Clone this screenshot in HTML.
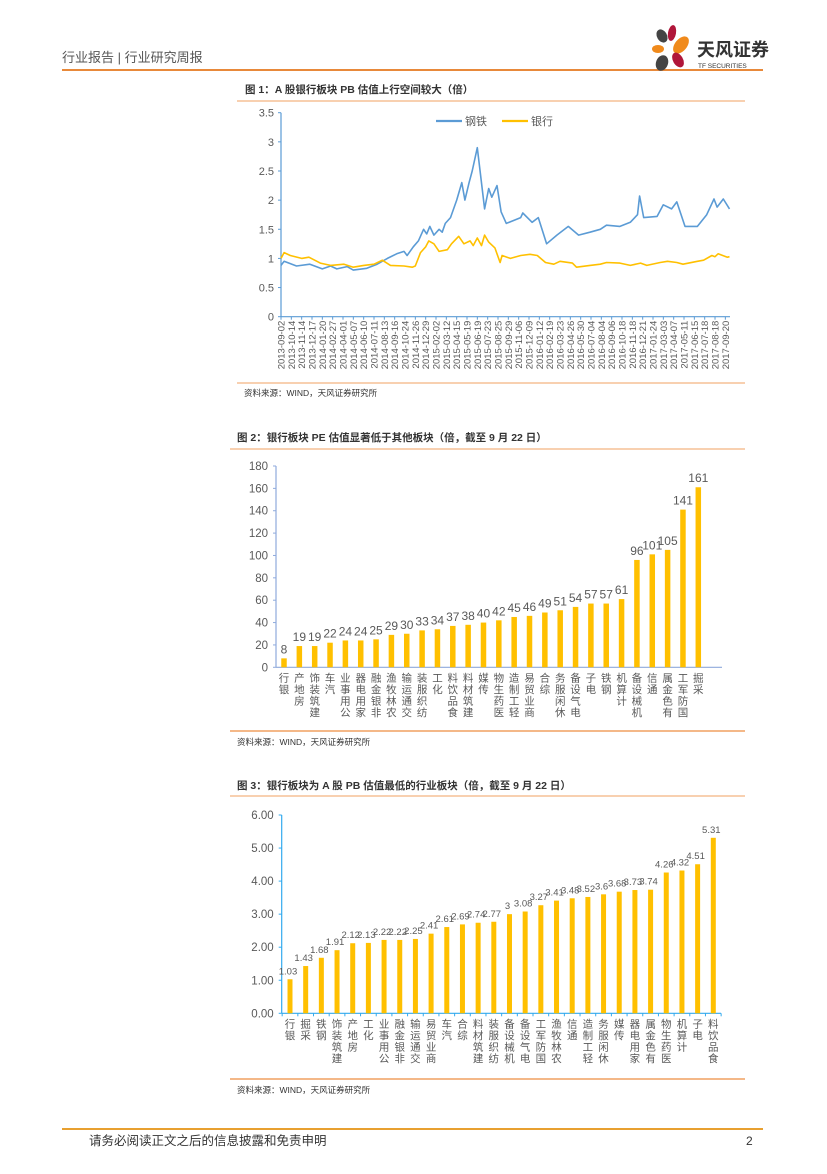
<!DOCTYPE html>
<html><head><meta charset="utf-8">
<style>
html,body{margin:0;padding:0;background:#fff;}
body{width:827px;height:1169px;position:relative;overflow:hidden;font-family:"Liberation Sans","Noto Sans CJK SC",sans-serif;}
svg text{font-family:"Liberation Sans","Noto Sans CJK SC",sans-serif;}
</style></head>
<body>
<svg id="page" width="827" height="1169" viewBox="0 0 827 1169" xmlns="http://www.w3.org/2000/svg">
  <g>
    <text x="62" y="62" font-size="13" fill="#555">行业报告 | 行业研究周报</text>
    <line x1="62" y1="70" x2="763" y2="70" stroke="#e8893a" stroke-width="2"/>
    <g>
      <ellipse cx="662" cy="36" rx="5" ry="7" fill="#444" transform="rotate(-30 662 36)"/>
      <ellipse cx="672" cy="33" rx="4" ry="8" fill="#b0163a" transform="rotate(10 672 33)"/>
      <ellipse cx="681" cy="45" rx="6" ry="10" fill="#f08a1c" transform="rotate(40 681 45)"/>
      <ellipse cx="658" cy="49" rx="6" ry="4" fill="#f08a1c"/>
      <ellipse cx="678" cy="60" rx="5" ry="8" fill="#b0163a" transform="rotate(-30 678 60)"/>
      <ellipse cx="662" cy="63" rx="6" ry="8" fill="#444" transform="rotate(20 662 63)"/>
      <text x="697" y="56" font-size="18" font-weight="bold" fill="#333">天风证券</text>
      <text x="698" y="68" font-size="6.5" fill="#333">TF SECURITIES</text>
    </g>
  </g>

  <text x="245" y="93" font-size="10.5" font-weight="bold" fill="#333">图 1：A 股银行板块 PB 估值上行空间较大（倍）</text>
  <line x1="237" y1="101" x2="745" y2="101" stroke="#f0a060" stroke-width="1"/>
  <g id="chart1"></g>
  <line x1="237" y1="383" x2="745" y2="383" stroke="#f0a060" stroke-width="1"/>
  <text x="244" y="396" font-size="8.5" fill="#333">资料来源：WIND，天风证券研究所</text>

  <text x="237" y="441" font-size="10.5" font-weight="bold" fill="#333">图 2：银行板块 PE 估值显著低于其他板块（倍，截至 9 月 22 日）</text>
  <line x1="230" y1="449" x2="745" y2="449" stroke="#f0a060" stroke-width="1"/>
  <g id="chart2"></g>
  <line x1="230" y1="731" x2="745" y2="731" stroke="#f0a060" stroke-width="1.5"/>
  <text x="237" y="745" font-size="8.5" fill="#333">资料来源：WIND，天风证券研究所</text>

  <text x="237" y="789" font-size="10.5" font-weight="bold" fill="#333">图 3：银行板块为 A 股 PB 估值最低的行业板块（倍，截至 9 月 22 日）</text>
  <line x1="230" y1="796" x2="745" y2="796" stroke="#f0a060" stroke-width="1"/>
  <g id="chart3"></g>
  <line x1="230" y1="1079" x2="745" y2="1079" stroke="#f0a060" stroke-width="1.5"/>
  <text x="237" y="1093" font-size="8.5" fill="#333">资料来源：WIND，天风证券研究所</text>

  <g>
    <line x1="62" y1="1129" x2="763" y2="1129" stroke="#e8a030" stroke-width="2"/>
    <text x="89" y="1145" font-size="12.5" fill="#333">请务必阅读正文之后的信息披露和免责申明</text>
    <text x="746" y="1145" font-size="12" fill="#333">2</text>
  </g>
</svg>
<script>
const NS='http://www.w3.org/2000/svg';
const dateLabels=['2013-09-02','2013-10-14','2013-11-14','2013-12-17','2014-01-20','2014-02-27','2014-04-01','2014-05-07','2014-06-10','2014-07-11','2014-08-13','2014-09-16','2014-10-24','2014-11-26','2014-12-29','2015-02-02','2015-03-12','2015-04-15','2015-05-19','2015-06-19','2015-07-23','2015-08-25','2015-09-29','2015-11-06','2015-12-09','2016-01-12','2016-02-19','2016-03-23','2016-04-26','2016-05-30','2016-07-04','2016-08-04','2016-09-06','2016-10-18','2016-11-18','2016-12-21','2017-01-24','2017-03-03','2017-04-07','2017-05-11','2017-06-15','2017-07-18','2017-08-18','2017-09-20'];
const yTicks1=[0,0.5,1,1.5,2,2.5,3,3.5];
const yTickLabels1=['0','0.5','1','1.5','2','2.5','3','3.5'];
const steelPos=[0,0.3,1.5,2.8,4,4.8,5.4,6.4,7,8.3,9.3,10.3,11.2,11.9,12.2,12.8,13.3,13.8,14.1,14.4,14.8,15.3,15.6,15.9,16.4,17,17.5,17.8,18.2,18.5,19,19.7,20.1,20.4,20.9,21.3,21.8,23.2,23.4,24.3,24.9,25.7,26.7,27.8,28.8,29.9,30.9,31.5,32.8,33.8,34.5,34.7,35.1,36.4,37,37.8,38.3,39.1,40.3,41.2,41.9,42.2,42.8,43.4];
const steelVal=[0.88,0.95,0.87,0.9,0.82,0.87,0.82,0.86,0.8,0.83,0.9,1.0,1.08,1.12,1.05,1.2,1.3,1.5,1.42,1.55,1.4,1.5,1.45,1.6,1.7,2.0,2.3,2.0,2.3,2.5,2.9,1.85,2.2,2.05,2.25,1.8,1.6,1.7,1.78,1.62,1.7,1.25,1.4,1.55,1.4,1.45,1.5,1.57,1.55,1.62,1.75,2.07,1.7,1.72,1.92,1.85,1.97,1.55,1.55,1.75,2.02,1.88,2.02,1.85];
const bankPos=[0,0.3,0.9,2.0,2.7,3.8,4.8,6.1,7,8,9,9.8,10.6,11.9,12.7,13,13.5,14,14.3,14.8,15.3,16.1,16.5,17.2,17.7,18.3,18.6,19,19.4,19.7,20.1,20.7,21.2,21.4,22.2,23.2,24.1,24.8,25.6,26.4,27,28.2,28.6,29.9,30.9,31.5,32.8,33.8,34.8,35.4,36.7,37.4,38.3,38.9,40.3,40.9,41.7,42,42.3,43.2,43.4];
const bankVal=[1.0,1.1,1.05,1.0,1.02,0.92,0.88,0.9,0.85,0.88,0.9,0.97,0.88,0.87,0.85,0.87,1.1,1.2,1.3,1.25,1.12,1.15,1.25,1.38,1.25,1.3,1.22,1.35,1.22,1.4,1.28,1.18,0.93,1.05,1.0,1.05,1.07,1.05,0.93,0.9,0.95,0.92,0.85,0.88,0.9,0.93,0.92,0.88,0.92,0.88,0.93,0.95,0.93,0.9,0.95,0.97,1.05,1.03,1.08,1.02,1.03];
const peCats=['银行','房地产','建筑装饰','汽车','公用事业','家用电器','非银金融','农林牧渔','交通运输','纺织服装','化工','食品饮料','建筑材料','传媒','医药生物','轻工制造','商业贸易','综合','休闲服务','电气设备','电子','钢铁','计算机','机械设备','通信','有色金属','国防军工','采掘'];
const peVals=[8,19,19,22,24,24,25,29,30,33,34,37,38,40,42,45,46,49,51,54,57,57,61,96,101,105,141,161];
const yTicks2=[0,20,40,60,80,100,120,140,160,180];
const pbCats=['银行','采掘','钢铁','建筑装饰','房地产','化工','公用事业','非银金融','交通运输','商业贸易','汽车','综合','建筑材料','纺织服装','机械设备','电气设备','国防军工','农林牧渔','通信','轻工制造','休闲服务','传媒','家用电器','有色金属','医药生物','计算机','电子','食品饮料'];
const pbVals=[1.03,1.43,1.68,1.91,2.12,2.13,2.22,2.22,2.25,2.41,2.61,2.69,2.74,2.77,3,3.08,3.27,3.41,3.48,3.52,3.6,3.68,3.73,3.74,4.26,4.32,4.51,5.31];
const pbLabels=['1.03','1.43','1.68','1.91','2.12','2.13','2.22','2.22','2.25','2.41','2.61','2.69','2.74','2.77','3','3.08','3.27','3.41','3.48','3.52','3.6','3.68','3.73','3.74','4.26','4.32','4.51','5.31'];
const yTicks3=[0,1,2,3,4,5,6];

function mk(tag,attrs,parent){const e=document.createElementNS(NS,tag);for(const k in attrs)e.setAttribute(k,attrs[k]);parent.appendChild(e);return e;}

(function(){
  const g=document.getElementById('chart1');
  const x0=281,x1=730,yb=316.7,yt=112.7,n=dateLabels.length;
  const xs=i=>x0+i*(x1-x0)/(n-1+0.45);
  const ys=v=>yb-(v/3.5)*(yb-yt);
  const ax=mk('line',{x1:x0,y1:yt,x2:x0,y2:yb,stroke:'#5b9bd5','stroke-width':1.2},g);
  
  
  const bx=mk('line',{x1:x0,y1:yb,x2:x1,y2:yb,stroke:'#5b9bd5','stroke-width':1.2},g);
  
  
  yTicks1.forEach((v,i)=>{
    const t=mk('text',{x:x0-7,y:ys(v)+4,'font-size':11,fill:'#595959','text-anchor':'end'},g);t.textContent=yTickLabels1[i];
    
    
    mk('line',{x1:x0-3,y1:ys(v),x2:x0,y2:ys(v),stroke:'#5b9bd5'},g);
  });
  dateLabels.forEach((d,i)=>{
    const x=xs(i);
    mk('line',{x1:x,y1:yb,x2:x,y2:yb+3,stroke:'#5b9bd5'},g);
    const t=mk('text',{x:0,y:0,'font-size':9.5,fill:'#595959','text-anchor':'end',transform:`translate(${x+3.5},${yb+4}) rotate(-90)`},g);
    t.textContent=d;
    
    
  });
  const path=(pos,vals)=>pos.map((p,i)=>(i?'L':'M')+xs(p).toFixed(1)+','+ys(vals[i]).toFixed(1)).join('');
  const s=mk('path',{d:path(steelPos,steelVal),fill:'none',stroke:'#5b9bd5','stroke-width':1.6,'stroke-linejoin':'round'},g);
  
  
  const b=mk('path',{d:path(bankPos,bankVal),fill:'none',stroke:'#ffc000','stroke-width':1.6,'stroke-linejoin':'round'},g);
  
  
  const lg=mk('g',{},g);
  
  
  mk('line',{x1:436,y1:121,x2:462,y2:121,stroke:'#5b9bd5','stroke-width':2.2},lg);
  const l1=mk('text',{x:465,y:125,'font-size':11,fill:'#595959'},lg);l1.textContent='钢铁';
  
  
  mk('line',{x1:502,y1:121,x2:528,y2:121,stroke:'#ffc000','stroke-width':2.2},lg);
  const l2=mk('text',{x:531,y:125,'font-size':11,fill:'#595959'},lg);l2.textContent='银行';
  
  
})();

function barChart(id,cats,vals,labels,ticks,cfg){
  const g=document.getElementById(id);
  const {x0,xr,yb,yt,xf,xl,bw,max,axisColor,tickFmt,valFont,valDx,catFont,catStep}=cfg;
  const n=cats.length;
  const xs=i=>xf+i*(xl-xf)/(n-1);
  const ys=v=>yb-(v/max)*(yb-yt);
  const ax=mk('line',{x1:x0,y1:yt,x2:x0,y2:yb,stroke:axisColor,'stroke-width':1.2},g);
  
  
  const bx=mk('line',{x1:x0,y1:yb,x2:xr,y2:yb,stroke:axisColor,'stroke-width':1.2},g);
  
  
  ticks.forEach(v=>{
    mk('line',{x1:x0-3,y1:ys(v),x2:x0,y2:ys(v),stroke:axisColor},g);
    const t=mk('text',{x:x0-8,y:ys(v)+4,'font-size':11.5,fill:'#595959','text-anchor':'end'},g);
    t.textContent=tickFmt(v);
    
    
  });
  const step=(xl-xf)/(n-1);
  cats.forEach((c,i)=>{
    const x=xs(i);
    if(cfg.xticks){mk('line',{x1:x-step/2,y1:yb,x2:x-step/2,y2:yb+3,stroke:axisColor},g);}
    const r=mk('rect',{x:x-bw/2,y:ys(vals[i]),width:bw,height:yb-ys(vals[i]),fill:'#ffc000'},g);
    
    
    const vt=mk('text',{x:x+valDx,y:ys(vals[i])-5,'font-size':valFont,fill:'#595959','text-anchor':'middle'},g);
    vt.textContent=labels[i];
    
    
    const ct=mk('text',{'font-size':catFont,fill:'#595959','text-anchor':'middle'},g);
    
    
    const chars=[...c];
    chars.forEach((ch,k)=>{
      const ts=mk('tspan',{x:x,y:yb+14+(chars.length-1-k)*catStep},ct);
      ts.textContent=ch;
    });
  });
  if(cfg.xticks){mk('line',{x1:xl+step/2,y1:yb,x2:xl+step/2,y2:yb+3,stroke:axisColor},g);}
}
barChart('chart2',peCats,peVals,peVals.map(String),yTicks2,{x0:276,xr:722,yb:667.3,yt:466,xf:284,xl:698.3,bw:5.5,max:180,axisColor:'#8faadc',tickFmt:v=>String(v),valFont:12,valDx:0,catFont:10.5,catStep:11.5,xticks:false});
barChart('chart3',pbCats,pbVals,pbLabels,yTicks3,{x0:281.7,xr:721,yb:1013.3,yt:815,xf:290,xl:713.3,bw:5,max:6,axisColor:'#33aaee',tickFmt:v=>v.toFixed(2),valFont:9.5,valDx:-2,catFont:10.5,catStep:11.5,xticks:true});
</script>
</body></html>
